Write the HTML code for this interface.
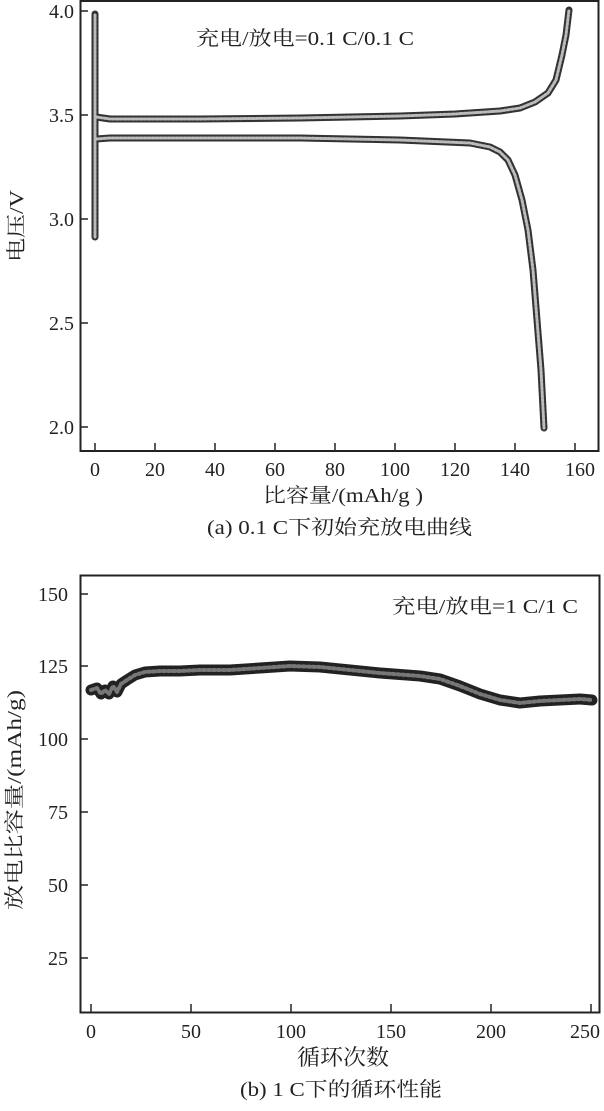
<!DOCTYPE html>
<html><head><meta charset="utf-8"><style>
body{margin:0;background:#fff;}
svg text{font-family:"Liberation Serif","Noto Serif CJK SC",serif;fill:#222;}
</style></head><body>
<svg width="604" height="1106" viewBox="0 0 604 1106" xmlns="http://www.w3.org/2000/svg">
<!-- Top chart -->
<rect x="80.5" y="1" width="518" height="450" fill="none" stroke="#222" stroke-width="2"/>
<g stroke="#222" stroke-width="1.5">
<line x1="80" y1="11" x2="88" y2="11"/><line x1="80" y1="115" x2="88" y2="115"/>
<line x1="80" y1="219" x2="88" y2="219"/><line x1="80" y1="323" x2="88" y2="323"/>
<line x1="80" y1="427" x2="88" y2="427"/>
<line x1="95" y1="451" x2="95" y2="443"/><line x1="155" y1="451" x2="155" y2="443"/>
<line x1="215" y1="451" x2="215" y2="443"/><line x1="275" y1="451" x2="275" y2="443"/>
<line x1="335" y1="451" x2="335" y2="443"/><line x1="395" y1="451" x2="395" y2="443"/>
<line x1="455" y1="451" x2="455" y2="443"/><line x1="515" y1="451" x2="515" y2="443"/>
<line x1="575" y1="451" x2="575" y2="443"/>
</g>
<g font-size="20" text-anchor="end">
<text x="74" y="18">4.0</text><text x="74" y="122">3.5</text><text x="74" y="226">3.0</text>
<text x="74" y="330">2.5</text><text x="74" y="434">2.0</text>
</g>
<g font-size="20" text-anchor="middle">
<text x="95" y="476">0</text><text x="155" y="476">20</text><text x="215" y="476">40</text>
<text x="275" y="476">60</text><text x="335" y="476">80</text><text x="395" y="476">100</text>
<text x="455" y="476">120</text><text x="515" y="476">140</text><text x="580" y="476">160</text>
</g>
<text x="263" y="502" font-size="20" textLength="160" lengthAdjust="spacingAndGlyphs">比容量/(mAh/g )</text>
<text x="207" y="534" font-size="20" textLength="265" lengthAdjust="spacingAndGlyphs">(a) 0.1 C下初始充放电曲线</text>
<text x="196" y="45" font-size="20" textLength="218" lengthAdjust="spacingAndGlyphs">充电/放电=0.1 C/0.1 C</text>
<text font-size="20" text-anchor="middle" textLength="72" lengthAdjust="spacingAndGlyphs" transform="translate(23,226) rotate(-90)">电压/V</text>
<g fill="none" stroke-linecap="round" stroke-linejoin="round">
<g stroke="#333" stroke-width="7">
<path d="M95,237 L95,14"/>
<path d="M96,117 L110,119 L200,119 L300,118 L400,116 L455,114 L500,111 L520,108 L535,102 L548,93 L556,80 L562,55 L566,35 L569,10"/>
<path d="M96,139 L110,138 L200,138 L300,138 L400,140 L470,143 L490,147 L500,152 L508,160 L515,175 L522,200 L528,230 L533,270 L537,320 L541,370 L544,428"/>
</g>
<g stroke="#bbb" stroke-width="3" stroke-dasharray="2 2">
<path d="M95,237 L95,14"/>
<path d="M96,117 L110,119 L200,119 L300,118 L400,116 L455,114 L500,111 L520,108 L535,102 L548,93 L556,80 L562,55 L566,35 L569,10"/>
<path d="M96,139 L110,138 L200,138 L300,138 L400,140 L470,143 L490,147 L500,152 L508,160 L515,175 L522,200 L528,230 L533,270 L537,320 L541,370 L544,428"/>
</g>
</g>
<!-- Bottom chart -->
<rect x="80.5" y="575.5" width="519" height="437" fill="none" stroke="#222" stroke-width="2"/>
<g stroke="#222" stroke-width="1.5">
<line x1="80" y1="594" x2="88" y2="594"/><line x1="80" y1="666" x2="88" y2="666"/>
<line x1="80" y1="739" x2="88" y2="739"/><line x1="80" y1="812" x2="88" y2="812"/>
<line x1="80" y1="885" x2="88" y2="885"/><line x1="80" y1="958" x2="88" y2="958"/>
<line x1="91" y1="1012" x2="91" y2="1004"/><line x1="191" y1="1012" x2="191" y2="1004"/>
<line x1="291" y1="1012" x2="291" y2="1004"/><line x1="391" y1="1012" x2="391" y2="1004"/>
<line x1="491" y1="1012" x2="491" y2="1004"/><line x1="591" y1="1012" x2="591" y2="1004"/>
</g>
<g font-size="20" text-anchor="end">
<text x="68" y="601">150</text><text x="68" y="673">125</text><text x="68" y="746">100</text>
<text x="68" y="819">75</text><text x="68" y="892">50</text><text x="68" y="965">25</text>
</g>
<g font-size="20" text-anchor="middle">
<text x="91" y="1038">0</text><text x="191" y="1038">50</text><text x="291" y="1038">100</text>
<text x="391" y="1038">150</text><text x="491" y="1038">200</text><text x="585" y="1038">250</text>
</g>
<text x="297" y="1065" font-size="22" textLength="92" lengthAdjust="spacingAndGlyphs">循环次数</text>
<text x="240" y="1096" font-size="20" textLength="202" lengthAdjust="spacingAndGlyphs">(b) 1 C下的循环性能</text>
<text x="392" y="613" font-size="20" textLength="186" lengthAdjust="spacingAndGlyphs">充电/放电=1 C/1 C</text>
<text font-size="20" text-anchor="middle" textLength="220" lengthAdjust="spacingAndGlyphs" transform="translate(21,800) rotate(-90)">放电比容量/(mAh/g)</text>
<g fill="none" stroke-linecap="round" stroke-linejoin="round">
<path stroke="#222" stroke-width="11" d="M91,690 L97,688 L101,694 L105,690 L109,694 L113,686 L117,692 L121,684 L127,680 L135,675 L145,672 L160,671 L180,671 L200,670 L230,670 L260,668 L290,666 L320,667 L350,670 L380,673 L420,676 L440,679 L460,686 L480,694 L500,700 L520,703 L540,701 L560,700 L580,699 L592,700"/>
<path stroke="#777" stroke-width="4" stroke-dasharray="2 3" d="M91,690 L97,688 L101,694 L105,690 L109,694 L113,686 L117,692 L121,684 L127,680 L135,675 L145,672 L160,671 L180,671 L200,670 L230,670 L260,668 L290,666 L320,667 L350,670 L380,673 L420,676 L440,679 L460,686 L480,694 L500,700 L520,703 L540,701 L560,700 L580,699 L592,700"/>
</g>
</svg>
</body></html>
